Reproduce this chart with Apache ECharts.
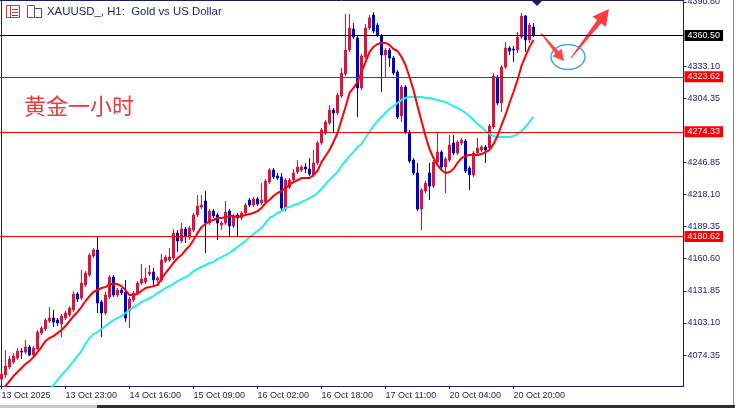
<!DOCTYPE html>
<html><head><meta charset="utf-8">
<script src="https://cdn.jsdelivr.net/npm/echarts@6/dist/echarts.min.js"></script>
<style>html,body{margin:0;padding:0;background:#fff}#c{width:735px;height:408px}</style>
</head><body><div id="c"></div>
<script>
// ---- data ----
const tickLabels = ['13 Oct 2025','13 Oct 23:00','14 Oct 16:00','15 Oct 09:00','16 Oct 02:00','16 Oct 18:00','17 Oct 11:00','20 Oct 04:00','20 Oct 20:00'];
const tickStep = 16;
const emptyBars = 37;
// [open, close, low, high]
const candles = [
[4052.8,4057.3,4051.0,4059.1],[4056.4,4064.5,4053.7,4078.8],[4063.6,4070.7,4061.8,4073.4],[4068.0,4073.4,4066.3,4076.1],
[4071.6,4077.9,4069.9,4080.6],[4077.9,4077.0,4070.7,4080.6],[4077.0,4081.5,4075.2,4087.8],[4081.5,4074.3,4073.4,4083.3],
[4074.3,4080.6,4072.5,4082.4],[4079.7,4094.9,4078.8,4096.7],[4094.0,4098.5,4092.2,4100.3],[4097.6,4105.7,4095.8,4107.5],
[4104.8,4107.5,4103.0,4117.3],[4107.5,4103.9,4099.4,4114.7],[4105.7,4103.0,4100.3,4107.5],[4102.1,4109.3,4090.4,4111.1],
[4107.5,4112.0,4105.7,4113.8],[4110.2,4116.4,4108.4,4118.2],[4114.7,4129.0,4112.9,4131.7],[4129.0,4124.5,4121.8,4130.8],
[4125.4,4138.8,4123.6,4150.5],[4137.0,4147.8,4135.2,4149.6],[4146.0,4163.9,4144.2,4165.7],[4163.0,4168.4,4161.2,4170.2],
[4168.4,4120.9,4112.0,4180.6],[4121.8,4112.0,4090.4,4123.6],[4112.0,4128.1,4110.2,4130.8],[4126.3,4144.2,4124.5,4146.0],
[4144.2,4128.1,4126.3,4146.0],[4128.1,4132.6,4126.3,4134.4],[4132.6,4129.9,4128.1,4134.4],[4130.8,4107.5,4103.9,4141.6],
[4113.8,4124.5,4098.5,4126.3],[4123.6,4129.9,4121.8,4131.7],[4129.9,4138.8,4128.1,4140.6],[4138.8,4142.4,4137.0,4155.9],
[4139.7,4143.3,4137.9,4152.3],[4146.9,4148.7,4145.1,4155.0],[4148.7,4141.6,4135.2,4152.3],[4141.6,4143.3,4138.8,4145.1],
[4141.6,4159.5,4139.7,4164.8],[4158.5,4162.1,4156.8,4163.9],[4159.5,4162.1,4157.7,4170.2],[4161.2,4183.6,4159.5,4187.2],
[4183.6,4176.5,4166.6,4186.3],[4176.5,4187.2,4174.7,4192.6],[4187.2,4180.9,4174.7,4189.0],[4180.0,4188.1,4177.4,4189.9],
[4186.3,4199.8,4184.5,4201.6],[4199.8,4207.8,4198.0,4217.7],[4206.9,4208.7,4205.1,4217.7],[4212.3,4192.6,4165.7,4221.3],
[4192.6,4203.3,4190.8,4205.1],[4203.3,4198.9,4197.1,4205.1],[4199.8,4192.6,4177.4,4201.6],[4190.8,4192.6,4186.3,4194.4],
[4192.6,4202.4,4190.8,4212.3],[4203.3,4189.9,4180.9,4205.1],[4189.9,4198.9,4188.1,4200.7],[4199.8,4197.1,4180.9,4201.6],
[4197.1,4201.6,4195.3,4203.3],[4201.6,4208.7,4199.8,4210.5],[4213.2,4208.7,4206.9,4215.0],[4208.7,4214.1,4206.9,4215.9],
[4214.1,4209.6,4207.8,4215.9],[4210.5,4213.2,4208.7,4228.4],[4211.4,4230.2,4209.6,4232.0],[4229.3,4240.1,4227.5,4241.9],
[4240.1,4233.8,4232.0,4241.9],[4234.7,4232.9,4231.1,4237.4],[4233.8,4206.0,4204.2,4237.4],[4205.1,4231.1,4203.3,4232.9],
[4224.9,4231.1,4223.1,4232.9],[4231.1,4237.4,4229.3,4241.0],[4238.3,4242.8,4236.5,4249.0],[4240.1,4242.8,4238.3,4244.6],
[4242.8,4241.0,4237.4,4246.4],[4241.0,4236.5,4234.7,4250.8],[4235.6,4246.4,4233.8,4258.0],[4246.4,4264.3,4244.6,4266.1],
[4264.3,4275.9,4262.5,4277.7],[4273.2,4283.1,4271.4,4284.9],[4282.2,4293.8,4280.4,4298.3],[4293.8,4291.2,4274.1,4295.6],
[4291.2,4307.3,4289.4,4309.1],[4306.4,4327.0,4304.6,4331.5],[4326.1,4347.6,4324.3,4379.9],[4347.6,4367.3,4345.8,4379.9],
[4366.4,4359.2,4357.5,4371.8],[4358.4,4313.6,4287.6,4360.1],[4313.6,4342.2,4311.8,4344.0],[4341.3,4367.3,4339.5,4370.9],
[4367.3,4376.3,4365.5,4379.0],[4379.0,4364.6,4362.8,4381.6],[4370.0,4361.0,4359.2,4371.8],[4360.1,4343.1,4310.0,4361.9],
[4343.1,4347.6,4322.5,4349.4],[4347.6,4340.4,4332.4,4349.4],[4340.4,4327.0,4325.2,4342.2],[4327.9,4287.6,4285.8,4329.7],
[4288.5,4314.5,4283.1,4316.2],[4314.5,4274.1,4272.3,4316.2],[4274.1,4248.1,4246.4,4275.9],[4249.0,4237.4,4235.6,4250.8],
[4237.4,4205.1,4203.3,4246.4],[4205.1,4222.2,4186.3,4224.0],[4221.3,4228.4,4219.5,4230.2],[4237.4,4225.7,4213.2,4246.4],
[4225.7,4247.2,4224.0,4249.0],[4247.2,4256.2,4245.5,4274.1],[4256.2,4242.8,4241.0,4258.0],[4242.8,4249.9,4219.5,4251.7],
[4249.0,4262.5,4247.2,4271.4],[4264.3,4255.3,4253.5,4271.4],[4255.3,4265.2,4253.5,4266.9],[4264.3,4266.9,4262.5,4268.8],
[4266.1,4239.2,4237.4,4267.9],[4241.9,4235.6,4222.2,4243.7],[4235.6,4255.3,4233.8,4257.1],[4255.3,4259.8,4253.5,4268.8],
[4258.0,4260.7,4256.2,4262.5],[4260.7,4258.0,4246.4,4262.5],[4259.8,4279.5,4258.0,4281.3],[4278.6,4324.3,4276.8,4327.0],
[4323.4,4300.1,4298.3,4325.2],[4300.1,4332.4,4292.0,4334.2],[4332.4,4349.4,4330.6,4354.8],[4349.4,4346.7,4343.1,4351.2],
[4348.5,4347.6,4336.8,4351.2],[4347.6,4359.2,4344.9,4363.7],[4359.2,4378.1,4357.5,4380.8],[4378.1,4356.6,4345.8,4379.0],
[4356.6,4370.0,4353.9,4371.8],[4368.2,4360.5,4359.2,4371.8]
];
const maFast = [
4042.1,4046.5,4051.0,4055.5,4059.1,4062.7,4066.3,4068.9,4072.5,4077.0,4081.5,4086.9,4089.6,4091.3,4094.0,4096.7,
4100.3,4104.8,4109.3,4112.9,4117.3,4122.7,4127.2,4130.8,4132.6,4134.4,4135.2,4137.9,4137.9,4137.9,4136.1,4132.6,
4128.1,4128.1,4129.0,4131.7,4134.4,4135.2,4136.1,4137.0,4142.4,4147.8,4152.3,4156.8,4161.2,4163.9,4168.4,4172.0,
4177.4,4183.6,4189.0,4191.7,4194.4,4195.3,4197.1,4197.1,4198.0,4198.9,4198.9,4198.0,4198.9,4199.8,4200.7,4201.6,
4203.3,4206.0,4210.5,4213.2,4216.8,4219.5,4221.3,4224.0,4226.6,4229.3,4231.1,4232.9,4232.9,4232.9,4235.6,4239.2,
4247.2,4252.6,4258.0,4265.2,4273.2,4284.9,4296.5,4309.1,4313.6,4318.9,4327.9,4336.8,4345.8,4350.3,4353.0,4353.9,
4353.9,4352.1,4348.5,4346.7,4341.3,4334.2,4323.4,4311.8,4297.4,4284.0,4270.5,4258.9,4250.8,4244.6,4240.1,4237.4,
4238.3,4241.0,4246.4,4250.8,4252.6,4253.5,4253.5,4253.5,4254.4,4256.2,4258.0,4263.4,4270.5,4280.4,4289.4,4300.1,
4310.0,4320.7,4333.3,4342.2,4350.3,4356.6
];
const maSlow = [
null,null,null,null,null,null,null,null,null,null,null,null,
4042.1,4047.4,4051.9,4056.4,4060.0,4064.5,4068.9,4073.4,4077.9,4084.2,4089.6,4093.1,4094.9,4097.6,4100.3,4103.0,
4105.7,4107.5,4109.3,4112.0,4114.7,4117.3,4119.1,4121.8,4123.6,4125.4,4127.2,4129.9,4131.7,4134.4,4136.1,4137.9,
4140.6,4142.4,4144.2,4146.0,4149.6,4151.4,4153.2,4155.0,4156.8,4157.7,4160.3,4162.1,4163.9,4165.7,4168.4,4171.1,
4173.8,4176.5,4180.0,4182.7,4185.4,4188.1,4192.6,4197.1,4198.9,4201.6,4203.3,4206.0,4206.9,4208.7,4209.6,4211.4,
4213.2,4215.0,4216.8,4219.5,4223.1,4227.5,4231.1,4234.7,4238.3,4243.7,4248.1,4252.6,4256.2,4260.7,4263.4,4268.8,
4274.1,4279.5,4284.0,4287.6,4291.2,4294.7,4297.4,4300.1,4302.8,4304.6,4305.5,4305.5,4305.5,4305.5,4304.6,4304.6,
4303.7,4302.8,4301.9,4301.0,4299.2,4297.4,4295.6,4293.8,4291.2,4288.5,4284.9,4281.3,4278.6,4275.0,4272.3,4270.5,
4269.6,4269.6,4269.6,4269.6,4270.5,4272.3,4275.0,4278.6,4283.1,4287.6
];
const levelLines = [4360.50, 4323.62, 4274.33, 4180.62];
const levelColors = ['#000000', '#ff0000', '#ff0000', '#ff0000'];
const priceTicks = [4390.60, 4333.10, 4304.35, 4246.85, 4218.10, 4189.35, 4160.60, 4131.85, 4103.10, 4074.35];
const yMin = 4046.6, yMax = 4392.4;
const symbolTitle = 'XAUUSD_, H1:  Gold vs US Dollar';
const noteText = '黄金一小时';

// ---- build ----
const categories = Array.from({length: candles.length + emptyBars}, (_, i) => String(i));
const NAVY = '#1b1b5e';
const FONT = '"Liberation Sans", Arial, sans-serif';
const showTick = i => i % tickStep === 0 && i / tickStep < tickLabels.length;

function arrowPoints(x0, y0, x1, y1, w0, w1, hl, hw) {
  const dx = x1 - x0, dy = y1 - y0, L = Math.hypot(dx, dy);
  const ux = dx / L, uy = dy / L, nx = -uy, ny = ux;
  const bx = x1 - ux * hl, by = y1 - uy * hl;
  return [[x0 + nx * w0 / 2, y0 + ny * w0 / 2], [bx + nx * w1 / 2, by + ny * w1 / 2], [bx + nx * hw / 2, by + ny * hw / 2],
          [x1, y1], [bx - nx * hw / 2, by - ny * hw / 2], [bx - nx * w1 / 2, by - ny * w1 / 2], [x0 - nx * w0 / 2, y0 - ny * w0 / 2]];
}

const levelSeries = levelLines.map((v, k) => ({
  type: 'line', data: [], silent: true, z: 1,
  markLine: {
    silent: true, symbol: ['none', 'none'], animation: false,
    lineStyle: {color: levelColors[k], width: 1, type: 'solid'},
    label: {show: true, position: 'end', distance: 1, formatter: () => v.toFixed(2), color: '#ffffff',
            backgroundColor: levelColors[k], padding: [1, 3, 0, 3], fontSize: 9, fontFamily: FONT, lineHeight: 10},
    emphasis: {disabled: true},
    data: [{yAxis: v}]
  }
}));

const chart = echarts.init(document.getElementById('c'), null, {renderer: 'canvas'});
chart.setOption({
  animation: false,
  backgroundColor: '#ffffff',
  grid: {left: -0.5, right: 51.5, top: 0, bottom: 22, show: false, containLabel: false, outerBoundsMode: 'none'},
  xAxis: {
    type: 'category', data: categories, boundaryGap: true,
    axisLine: {show: true, lineStyle: {color: NAVY, width: 1}},
    axisTick: {show: true, interval: showTick, alignWithLabel: true, length: 3, lineStyle: {color: NAVY}},
    axisLabel: {interval: showTick, formatter: (v, i) => tickLabels[i / tickStep] || '', align: 'left',
                margin: 5, fontSize: 9, color: NAVY, fontFamily: FONT},
    splitLine: {show: false}
  },
  yAxis: {
    type: 'value', position: 'right', min: yMin, max: yMax, scale: true,
    axisLine: {show: true, lineStyle: {color: NAVY, width: 1}},
    axisTick: {show: true, customValues: priceTicks, length: 3, lineStyle: {color: NAVY}},
    axisLabel: {customValues: priceTicks, formatter: v => v.toFixed(2), margin: 4, fontSize: 9, color: NAVY, fontFamily: FONT},
    splitLine: {show: false}
  },
  series: levelSeries.concat([
    {
      type: 'candlestick', data: candles, barWidth: 2, z: 2,
      itemStyle: {color: '#dc143c', color0: '#0000cd', borderColor: '#dc143c', borderColor0: '#0000cd', borderWidth: 1}
    },
    {type: 'line', data: maSlow, symbol: 'none', lineStyle: {color: '#22eeee', width: 2}, z: 3},
    {type: 'line', data: maFast, symbol: 'none', lineStyle: {color: '#ff0000', width: 2}, z: 4}
  ]),
  graphic: [
    {type: 'line', shape: {x1: 0, y1: 0.5, x2: 683, y2: 0.5}, style: {stroke: NAVY, lineWidth: 1}, silent: true},
    {type: 'line', shape: {x1: 1.5, y1: 0, x2: 1.5, y2: 386}, style: {stroke: NAVY, lineWidth: 1}, silent: true},
    {type: 'line', shape: {x1: 733.5, y1: 0, x2: 733.5, y2: 405}, style: {stroke: '#8a8a8a', lineWidth: 1}, silent: true},
    {type: 'rect', shape: {x: 0, y: 405, width: 97, height: 3}, style: {fill: '#c8c8c8'}, silent: true},
    {type: 'rect', shape: {x: 97, y: 405, width: 638, height: 3}, style: {fill: '#303030'}, silent: true},
    {type: 'polygon', shape: {points: [[532, 1], [542, 1], [537, 6]]}, style: {fill: NAVY}, silent: true},
    // header icons
    {type: 'rect', shape: {x: 6.5, y: 5.5, width: 13, height: 12}, style: {fill: '#fff', stroke: '#e03030', lineWidth: 1}, silent: true},
    {type: 'line', shape: {x1: 10.5, y1: 6, x2: 10.5, y2: 17}, style: {stroke: '#e03030'}, silent: true},
    {type: 'line', shape: {x1: 12, y1: 9.5, x2: 18, y2: 9.5}, style: {stroke: '#e03030'}, silent: true},
    {type: 'line', shape: {x1: 12, y1: 12.5, x2: 18, y2: 12.5}, style: {stroke: '#e03030'}, silent: true},
    {type: 'line', shape: {x1: 12, y1: 15.5, x2: 18, y2: 15.5}, style: {stroke: '#3050c0'}, silent: true},
    {type: 'rect', shape: {x: 27.5, y: 5.5, width: 7, height: 12}, style: {fill: '#fff', stroke: '#e03030', lineWidth: 1}, silent: true},
    {type: 'rect', shape: {x: 34.5, y: 8.5, width: 7, height: 9}, style: {fill: '#fff', stroke: '#3050c0', lineWidth: 1}, silent: true},
    {type: 'text', left: 47, top: 6, style: {text: symbolTitle, fill: NAVY, font: '11.4px ' + FONT}, silent: true},
    {type: 'text', left: 24, top: 95, style: {text: noteText, fill: '#ee3a3a', font: '22px "Noto Sans CJK SC", sans-serif'}, silent: true},
    // annotations
    {type: 'ellipse', shape: {cx: 568, cy: 57, rx: 17, ry: 12.5}, style: {fill: 'none', stroke: '#45a8ea', lineWidth: 1.5}, silent: true},
    {type: 'polygon', shape: {points: arrowPoints(541, 33, 564, 61, 1, 4, 11, 12)}, style: {fill: '#ff4545'}, silent: true},
    {type: 'polygon', shape: {points: arrowPoints(571, 58, 609, 9, 1, 5, 16, 17)}, style: {fill: '#ff3c3c'}, silent: true}
  ]
});
</script>
</body></html>
